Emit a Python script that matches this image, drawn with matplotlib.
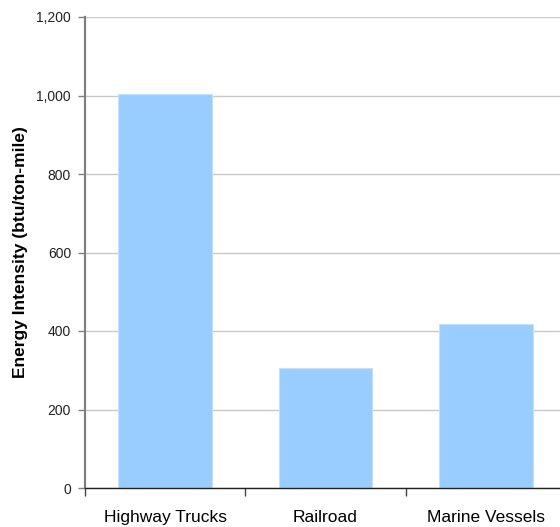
import matplotlib
matplotlib.use("Agg")
import matplotlib.pyplot as plt
import numpy as np

plt.rcParams['font.family'] = ['Liberation Sans', 'DejaVu Sans']

# Energy intensity by freight mode (btu per ton-mile)
modes = ["Highway Trucks", "Railroad", "Marine Vessels"]
intensity = [1003, 305, 418]
yticks = [0, 200, 400, 600, 800, 1000, 1200]

W, H = 560, 527
fig = plt.figure(figsize=(W / 100, H / 100), dpi=100)
ax = fig.add_axes([85 / W, 1 - 488 / H, 481 / W, 471 / H])

x = np.arange(len(modes))
ax.bar(x, intensity, width=0.584, color="#99ccff", edgecolor="#c4e0ff",
       linewidth=0.8, zorder=3)

ax.set_xlim(-0.5, len(modes) - 0.5)
ax.set_ylim(0, 1200)
ax.set_yticks(yticks)
ax.set_yticklabels([f"{v:,}" for v in yticks], fontsize=10, color="#222222")
ax.yaxis.grid(True, color="#c8c8c8", linewidth=1.0, zorder=0)

# category labels sit between the boundary ticks
ax.set_xticks(np.arange(len(modes) + 1) - 0.5)
ax.set_xticklabels([])
ax.set_xticks(x, minor=True)
ax.set_xticklabels(modes, minor=True, fontsize=12.5)
ax.tick_params(axis="x", which="minor", length=0, pad=15.5)
ax.tick_params(axis="x", which="major", length=6, width=1.0, color="#444444")
ax.tick_params(axis="y", length=5, width=1.0, color="#808080", pad=5)

for s in ("top", "right"):
    ax.spines[s].set_visible(False)
ax.spines["left"].set_color("#808080")
ax.spines["left"].set_linewidth(1.6)
ax.spines["bottom"].set_color("#222222")
ax.spines["bottom"].set_linewidth(1.0)
ax.spines["bottom"].set_zorder(4)

ax.set_ylabel("Energy Intensity (btu/ton-mile)", fontsize=12.5, fontweight="bold",
              labelpad=6)

fig.savefig("out.png", dpi=100)
